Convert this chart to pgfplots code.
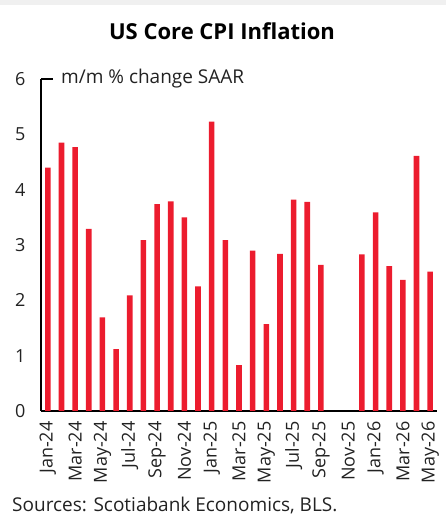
\documentclass[border=0pt]{standalone}
\usepackage{fontspec}
\setmainfont{Open Sans}
\usepackage{pgfplots}
\pgfplotsset{compat=1.18}
\definecolor{scred}{HTML}{EC1C2E}
\definecolor{txt}{HTML}{222222}
\pgfplotstableread{
x y
0 4.40
1 4.85
2 4.77
3 3.29
4 1.69
5 1.12
6 2.09
7 3.09
8 3.74
9 3.79
10 3.50
11 2.25
12 5.23
13 3.09
14 0.83
15 2.90
16 1.57
17 2.84
18 3.82
19 3.78
20 2.64
23 2.83
24 3.59
25 2.62
26 2.37
27 4.61
28 2.52
}\cpidata
\begin{document}
\begin{tikzpicture}[x=1pt,y=1pt]
\path[use as bounding box] (0,0) rectangle (446,516);
\fill[black!6] (0,511) rectangle (446,516);
\begin{axis}[
  at={(41pt,105pt)}, anchor=south west,
  scale only axis, width=396pt, height=332pt,
  xmin=-0.5, xmax=28.5, ymin=0, ymax=6,
  axis x line=bottom, axis y line=left,
  axis line style={-, line width=1.1pt, black},
  ybar, bar width=5.6pt,
  ytick={0,1,...,6},
  ytick style={draw=none},
  yticklabel style={font=\fontsize{18}{20}\selectfont, text=txt, xshift=-10pt},
  /pgf/number format/assume math mode=true,
  xtick={0,2,...,28},
  xticklabels={Jan-24,Mar-24,May-24,Jul-24,Sep-24,Nov-24,Jan-25,Mar-25,May-25,Jul-25,Sep-25,Nov-25,Jan-26,Mar-26,May-26},
  xtick style={draw=none},
  xticklabel style={font=\fontsize{18}{20}\selectfont, text=txt, rotate=90, anchor=east, inner sep=0pt, xshift=-6pt},
  extra x ticks={-0.5,1.5,...,27.5},
  extra x tick labels={},
  extra x tick style={tick align=outside, major tick length=5pt, tick style={draw=black, line width=1.1pt}},
  clip=false,
]
\addplot[fill=scred, draw=none] table[x=x,y=y] {\cpidata};
\draw[black, line width=1.1pt] (axis cs:-0.5,6) -- ++(5pt,0);
\end{axis}
\node[anchor=base, font=\fontsize{22}{24}\selectfont\bfseries, text=black] at (222,476) {US Core CPI Inflation};
\node[anchor=base west, inner sep=0pt, font=\fontsize{19}{20}\selectfont, text=txt] at (61,432) {m/m \% change SAAR};
\node[anchor=base west, inner sep=0pt, font=\fontsize{19}{20}\selectfont, text=txt] at (12,5) {Sources: Scotiabank Economics, BLS.};
\end{tikzpicture}
\end{document}
